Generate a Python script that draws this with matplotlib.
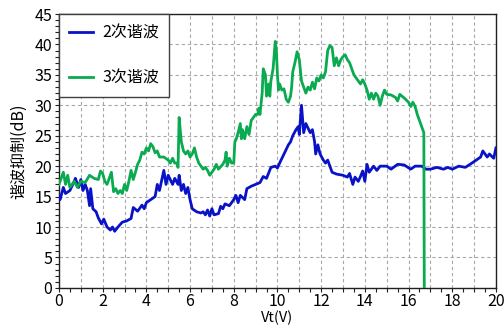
import matplotlib
matplotlib.use("Agg")
import matplotlib.pyplot as plt
from matplotlib.ticker import MultipleLocator, FuncFormatter

plt.rcParams['font.family'] = ['Noto Sans CJK SC', 'DejaVu Sans']

# 2nd harmonic suppression (dB) vs tuning voltage Vt (V)
vt_2nd = [0.0, 0.05, 0.2, 0.3, 0.5, 0.7, 0.75, 0.9, 1.0, 1.1, 1.2, 1.3, 1.4, 1.45, 1.55,
          1.7, 1.8, 1.95, 2.05, 2.2, 2.35, 2.45, 2.55, 2.7, 2.9, 3.1, 3.3, 3.4, 3.6, 3.8,
          3.9, 4.0, 4.2, 4.4, 4.5, 4.6, 4.8, 4.9, 5.0, 5.2, 5.3, 5.45, 5.5, 5.6, 5.7,
          5.8, 5.9, 6.0, 6.1, 6.3, 6.5, 6.6, 6.7, 6.8, 6.9, 7.0, 7.1, 7.3, 7.4, 7.5,
          7.6, 7.8, 7.9, 8.0, 8.1, 8.2, 8.3, 8.5, 8.6, 8.8, 9.0, 9.2, 9.35, 9.5, 9.7,
          9.9, 10.0, 10.1, 10.3, 10.5, 10.6, 10.7, 10.85, 10.95, 11.0, 11.1, 11.2, 11.3, 11.5,
          11.6, 11.7, 11.75, 11.85, 11.95, 12.1, 12.2, 12.3, 12.5, 12.7, 13.0, 13.2, 13.3, 13.45,
          13.55, 13.7, 13.8, 13.9, 14.0, 14.1, 14.2, 14.4, 14.55, 14.7, 15.0, 15.2, 15.5, 15.8,
          16.1, 16.3, 16.6, 16.8, 17.0, 17.3, 17.6, 17.8, 18.0, 18.3, 18.6, 18.9, 19.1, 19.3,
          19.4, 19.6, 19.7, 19.9, 20.0]
db_2nd = [15.0, 14.5, 16.5, 15.5, 16.0, 17.5, 18.0, 16.5, 17.8, 16.0, 17.0, 16.0, 13.5, 16.3, 13.0,
          12.5, 11.5, 10.5, 11.3, 10.0, 9.5, 10.0, 9.3, 10.0, 10.8, 11.0, 11.4, 13.2, 12.6, 13.6,
          13.0, 14.0, 14.5, 15.0, 17.0, 16.0, 19.3, 17.0, 18.5, 17.0, 18.0, 17.0, 18.5, 16.0, 17.0,
          15.5, 16.5, 14.5, 13.0, 12.5, 12.3, 12.5, 12.0, 12.8, 11.8, 13.0, 12.0, 12.2, 13.4, 13.0,
          13.8, 13.5, 14.0, 14.5, 15.2, 14.0, 15.2, 14.5, 16.3, 16.7, 17.0, 17.3, 18.3, 18.0, 19.8,
          20.0, 19.7, 20.5, 22.0, 23.5, 24.0, 25.0, 26.0, 26.5, 25.2, 30.0, 25.5, 27.0, 25.5,
          26.0, 24.0, 22.0, 23.5, 22.0, 21.0, 20.5, 21.0, 19.0, 18.7, 18.5, 18.2, 18.8, 17.0,
          18.2, 17.5, 18.3, 19.2, 17.5, 20.3, 19.0, 20.0, 19.3, 20.0, 20.0, 19.5, 20.3, 20.2,
          19.5, 20.0, 20.0, 19.5, 19.5, 19.8, 19.5, 19.8, 19.5, 20.0, 19.8, 20.5, 21.0, 21.5,
          22.5, 21.5, 22.0, 21.3, 23.0]

# 3rd harmonic suppression (dB) vs tuning voltage Vt (V)
vt_3rd = [0.0, 0.2, 0.3, 0.4, 0.5, 0.7, 0.85, 1.0, 1.2, 1.4, 1.6, 1.8, 1.9, 2.0, 2.1,
          2.2, 2.35, 2.4, 2.5, 2.6, 2.7, 2.8, 2.9, 3.0, 3.1, 3.2, 3.3, 3.4, 3.5, 3.6,
          3.7, 3.8, 3.9, 4.0, 4.1, 4.2, 4.3, 4.4, 4.5, 4.6, 4.8, 5.0, 5.1, 5.2, 5.3,
          5.4, 5.45, 5.5, 5.55, 5.6, 5.7, 5.8, 5.9, 6.0, 6.1, 6.2, 6.3, 6.4, 6.5, 6.6,
          6.7, 6.8, 6.9, 7.0, 7.1, 7.2, 7.3, 7.5, 7.6, 7.65, 7.7, 7.8, 7.9, 8.0, 8.05,
          8.1, 8.2, 8.3, 8.35, 8.4, 8.5, 8.6, 8.7, 8.8, 9.0, 9.1, 9.15, 9.2, 9.3, 9.35,
          9.45, 9.5, 9.6, 9.65, 9.7, 9.8, 9.9, 9.95, 10.0, 10.05, 10.1, 10.2, 10.3, 10.4, 10.5,
          10.6, 10.65, 10.7, 10.8, 10.9, 11.0, 11.1, 11.2, 11.3, 11.4, 11.5, 11.6, 11.7, 11.8,
          11.9, 12.0, 12.1, 12.2, 12.3, 12.4, 12.5, 12.6, 12.7, 12.8, 12.9, 13.0, 13.1, 13.2,
          13.3, 13.5, 13.7, 13.8, 13.9, 14.0, 14.1, 14.2, 14.3, 14.4, 14.5, 14.6, 14.7, 14.8,
          14.9, 15.0, 15.2, 15.4, 15.5, 15.6, 15.8, 16.0, 16.1, 16.2, 16.3, 16.4, 16.5, 16.6,
          16.7, 16.72]
db_3rd = [17.0, 19.0, 17.0, 18.5, 16.5, 17.5, 16.5, 17.5, 17.3, 18.5, 18.0, 17.8, 19.2, 18.8, 17.5,
          17.0, 18.5, 19.0, 15.8, 16.3, 15.5, 16.0, 15.5, 17.0, 16.0, 17.5, 19.3, 17.8, 19.0, 20.3,
          21.0, 22.3, 22.0, 23.0, 22.5, 23.7, 23.2, 22.2, 22.5, 21.5, 21.5, 21.0, 20.5, 21.3, 20.5,
          20.5, 19.8, 28.0, 26.0, 24.0, 22.5, 22.0, 22.5, 21.5, 22.0, 23.0, 21.5, 20.5, 20.0, 19.5,
          19.8, 19.3, 18.5, 19.0, 19.5, 20.3, 19.5, 20.3, 21.0, 22.3, 20.0, 21.3, 20.5, 20.5, 24.0,
          24.3, 25.5, 27.0, 24.5, 26.0, 24.5, 26.5, 25.2, 27.5, 28.5, 28.5, 29.5, 28.5, 32.0, 36.0,
          35.0, 31.5, 33.5, 31.5, 34.0, 36.0, 40.5, 39.0, 35.0, 32.5, 33.5, 32.5, 32.7, 31.0, 30.5,
          31.5, 33.0, 35.5, 37.0, 38.8, 37.5, 34.0, 33.0, 32.0, 33.0, 32.5, 33.8, 32.7, 34.5,
          34.0, 35.0, 34.5, 35.5, 39.0, 39.8, 39.5, 36.5, 37.8, 36.5, 37.5, 38.0, 38.3, 37.5,
          37.0, 35.0, 34.0, 33.5, 34.2, 33.5, 32.5, 31.0, 32.0, 31.0, 32.0, 31.5, 30.0, 31.5,
          32.5, 31.8, 31.7, 31.3, 30.7, 31.8, 31.2, 30.5, 29.8, 30.5, 29.8, 28.5, 27.5, 26.5,
          25.5, 0.0]

series_labels = ['2次谐波', '3次谐波']

fig = plt.figure(figsize=(5.04, 3.26), dpi=100)
ax = fig.add_axes([0.117, 0.117, 0.867, 0.840])

ax.plot(vt_2nd, db_2nd, color='#0a12c8', lw=2.0, label=series_labels[0], zorder=3)
ax.plot(vt_3rd, db_3rd, color='#0aaa50', lw=2.0, label=series_labels[1], zorder=3)

ax.set_xlim(0, 20)
ax.set_ylim(0, 45)
ax.xaxis.set_major_locator(MultipleLocator(1))
ax.xaxis.set_minor_locator(MultipleLocator(0.5))
ax.xaxis.set_major_formatter(FuncFormatter(lambda v, p: f'{int(v)}' if int(round(v)) % 2 == 0 else ''))
ax.yaxis.set_major_locator(MultipleLocator(5))
ax.yaxis.set_minor_locator(MultipleLocator(1))

ax.tick_params(which='both', direction='out', length=3, width=0.8, color='#202020',
               labelsize=11.5, pad=2)
ax.tick_params(axis='x', which='both', pad=1)
ax.grid(True, which='major', color='#a8a8a8', lw=0.8, linestyle=(0, (3, 2.5)))
for s in ax.spines.values():
    s.set_color('#202020')
    s.set_linewidth(1.0)

ax.set_xlabel('Vt(V)', fontsize=10.5, labelpad=0.5)
ax.set_ylabel('谐波抑制(dB)', fontsize=11.5, labelpad=5)

leg = ax.legend(loc='upper left', bbox_to_anchor=(0, 1), borderaxespad=0,
                fontsize=11.5, frameon=True, fancybox=False, edgecolor='#404040',
                framealpha=1, borderpad=0.65, labelspacing=1.75, handlelength=1.45,
                handletextpad=0.6)
leg.get_frame().set_linewidth(1.0)

fig.savefig('out.png', dpi=100)
